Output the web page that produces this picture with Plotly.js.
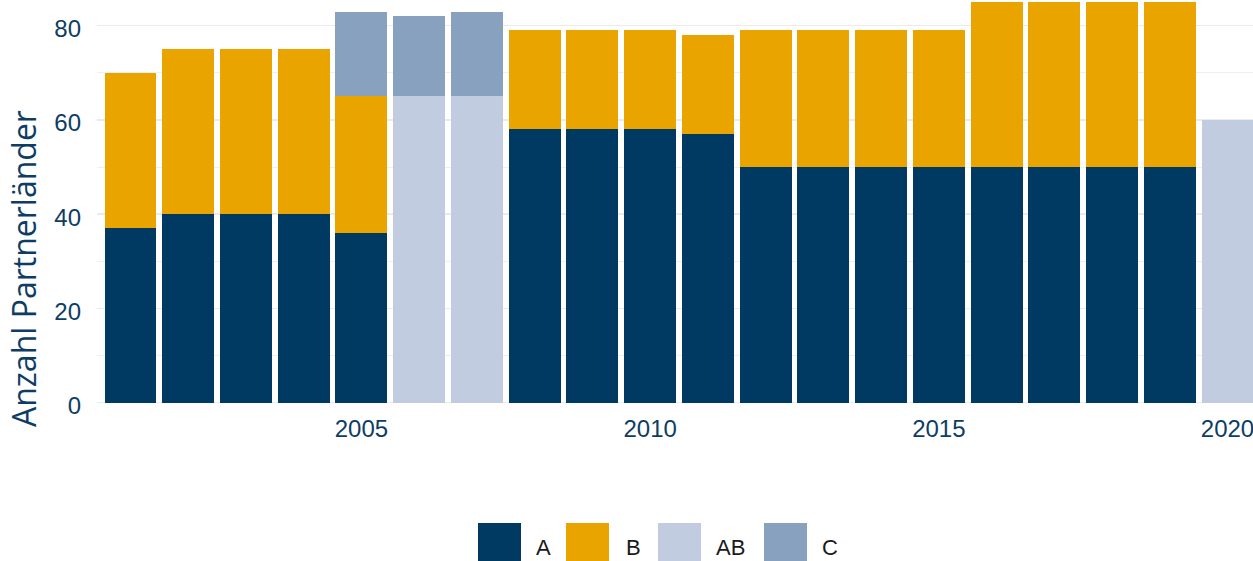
<!DOCTYPE html>
<html>
<head>
<meta charset="utf-8">
<script src="https://cdn.plot.ly/plotly-3.0.1.min.js"></script>
<style>
html, body { margin: 0; padding: 0; overflow: hidden; background: #fff; }
#chart { width: 1290px; height: 561px; }
</style>
</head>
<body>
<div id="chart"></div>
<script>
// ---- data ----
const years = [2001,2002,2003,2004,2005,2006,2007,2008,2009,2010,2011,2012,2013,2014,2015,2016,2017,2018,2019,2020];
const valuesA  = [37,40,40,40,36,null,null,58,58,58,57,50,50,50,50,50,50,50,50,null];
const valuesB  = [33,35,35,35,29,null,null,21,21,21,21,29,29,29,29,35,35,35,35,null];
const valuesAB = [null,null,null,null,null,65,65,null,null,null,null,null,null,null,null,null,null,null,null,60];
const valuesC  = [null,null,null,null,18,17,18,null,null,null,null,null,null,null,null,null,null,null,null,null];
const seriesNames = ["A","B","AB","C"];
const xTickVals = [2005,2010,2015,2020];
const yTickVals = [0,20,40,60,80];
const yTitle = "Anzahl Partnerländer";

// ---- style ----
const colors = {A:"#003a63", B:"#e9a400", AB:"#c2cce0", C:"#88a1bf"};
const txtBlue = "#0d3d64";
const W = 1290, H = 561;
const M = {l:97, r:29, t:0, b:157};
const PW = W - M.l - M.r, PH = H - M.t - M.b;
const px2x = px => (px - M.l) / PW;
const py2y = py => (M.t + PH - py) / PH;

const seriesVals = {A:valuesA, B:valuesB, AB:valuesAB, C:valuesC};
const traces = seriesNames.map(n => ({
  type: "bar", name: n, x: years, y: seriesVals[n],
  marker: {color: colors[n], line: {width: 0}},
  hoverinfo: "skip"
}));

// manual legend (large square keys like the original)
const legendKeys = [
  {n:"A",  sx:478, tx:534},
  {n:"B",  sx:566, tx:624},
  {n:"AB", sx:658, tx:714},
  {n:"C",  sx:764, tx:820}
];
const shapes = legendKeys.map(k => ({
  type:"rect", xref:"paper", yref:"paper",
  x0: px2x(k.sx), x1: px2x(k.sx + 43),
  y0: py2y(523), y1: py2y(566),
  fillcolor: colors[k.n], line:{width:0}
}));
const annotations = legendKeys.map(k => ({
  xref:"paper", yref:"paper", x: px2x(k.tx), y: py2y(547),
  xanchor:"left", yanchor:"middle", showarrow:false, text:k.n,
  font:{family:"Liberation Sans, Arial, sans-serif", size:22, color:"#1a1a1a"}
}));
annotations.push({
  xref:"paper", yref:"paper", x: px2x(24), y: py2y(269),
  xanchor:"center", yanchor:"middle", showarrow:false, textangle:-90,
  text: yTitle,
  font:{family:"Open Sans, sans-serif", size:32, color:txtBlue}
});

const layout = {
  width: W, height: H,
  margin: M,
  barmode: "stack",
  bargap: 0.1,
  showlegend: false,
  paper_bgcolor: "#fff", plot_bgcolor: "#fff",
  font: {family:"Liberation Sans, Arial, sans-serif", color: txtBlue},
  xaxis: {
    range: [2000.42, 2020.58],
    tickvals: xTickVals, ticktext: xTickVals.map(String),
    showgrid: false, zeroline: false, showline: false, ticks: "",
    tickfont: {size: 24, color: txtBlue},
    ticklabelstandoff: 8
  },
  yaxis: {
    range: [-0.28, 85.45],
    tickvals: yTickVals, ticktext: yTickVals.map(String),
    showgrid: true, gridcolor: "#ebebeb", gridwidth: 1.5,
    minor: {tickvals: [10,30,50,70], showgrid: true, gridcolor: "#efefef", gridwidth: 1},
    zeroline: false, showline: false, ticks: "",
    tickfont: {size: 24, color: txtBlue},
    ticklabelstandoff: 15,
    ticklabelshift: 3
  },
  shapes: shapes,
  annotations: annotations
};

Plotly.newPlot("chart", traces, layout, {staticPlot: true, displayModeBar: false});
</script>
</body>
</html>
